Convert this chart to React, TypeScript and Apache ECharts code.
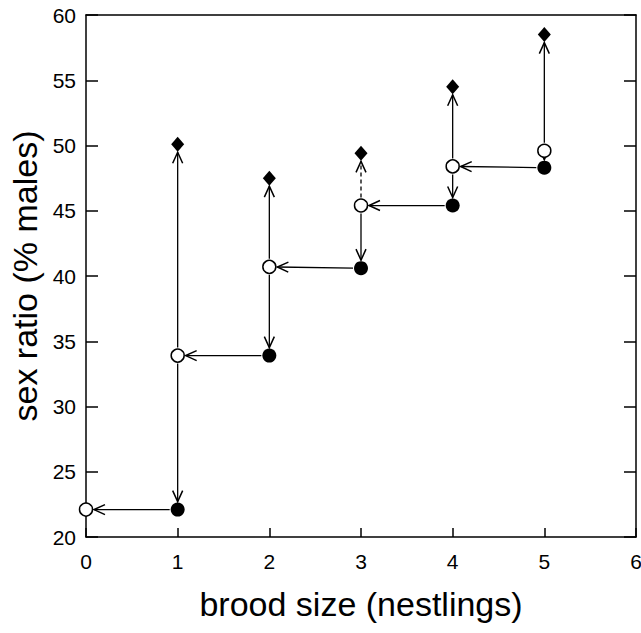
import React, { useEffect, useRef } from "react";
import * as echarts from "echarts";

const broodSize = [0, 1, 2, 3, 4, 5];
const filledValues: (number | null)[] = [null, 22.1, 33.9, 40.6, 45.4, 48.3];
const openValues = [22.1, 33.9, 40.7, 45.4, 48.4, 49.6];
const diamondValues: (number | null)[] = [null, 50.1, 47.5, 49.4, 54.5, 58.5];
const xTicks = [0, 1, 2, 3, 4, 5, 6];
const yTicks = [20, 25, 30, 35, 40, 45, 50, 55, 60];
const dashedUp = [3];

export default function App() {
  const ref = useRef<HTMLDivElement>(null);
  useEffect(() => {
    if (!ref.current) return;
    const chart = echarts.init(ref.current, undefined, { renderer: "svg" });

    const arrows: any[] = [];
    broodSize.forEach((x, i) => {
      const f = filledValues[i];
      if (f != null && i > 0) arrows.push([x, f, broodSize[i - 1], openValues[i - 1], 0]);
    });
    broodSize.forEach((x, i) => {
      const f = filledValues[i];
      if (f != null && openValues[i] > f + 1) arrows.push([x, openValues[i], x, f, 0]);
    });
    broodSize.forEach((x, i) => {
      const d = diamondValues[i];
      if (d != null) arrows.push([x, openValues[i], x, d, dashedUp.includes(x) ? 1 : 0]);
    });

    const font = "Liberation Sans, Arial, sans-serif";
    const ink = "#000";

    chart.setOption({
      animation: false,
      backgroundColor: "#fff",
      grid: { left: 86, right: 5, top: 15, bottom: 96, containLabel: false, outerBoundsMode: "none" },
      xAxis: [
        {
          type: "value",
          min: 0,
          max: 6,
          interval: 1,
          name: "brood size (nestlings)",
          nameLocation: "middle",
          nameGap: 50,
          nameTextStyle: { fontFamily: font, fontSize: 34, color: ink },
          axisLine: { show: true, onZero: false, lineStyle: { color: ink, width: 1.5 } },
          axisTick: { show: true, inside: true, length: 9, lineStyle: { color: ink, width: 1.5 } },
          axisLabel: {
            margin: 14,
            fontFamily: font,
            fontSize: 21,
            color: ink,
            formatter: (v: number) => (xTicks.includes(v) ? String(v) : ""),
          },
          splitLine: { show: false },
        },
        {
          type: "value",
          position: "top",
          min: 0,
          max: 6,
          interval: 1,
          axisLine: { show: true, onZero: false, lineStyle: { color: ink, width: 1.5 } },
          axisTick: { show: false },
          axisLabel: { show: false },
          splitLine: { show: false },
        },
      ],
      yAxis: [
        {
          type: "value",
          min: 20,
          max: 60,
          interval: 5,
          name: "sex ratio (% males)",
          nameLocation: "middle",
          nameGap: 44,
          nameRotate: 90,
          nameTextStyle: { fontFamily: font, fontSize: 34, color: ink },
          axisLine: { show: true, onZero: false, lineStyle: { color: ink, width: 1.5 } },
          axisTick: { show: true, inside: true, length: 12, lineStyle: { color: ink, width: 1.5 } },
          axisLabel: {
            margin: 10,
            fontFamily: font,
            fontSize: 21,
            color: ink,
            formatter: (v: number) => (yTicks.includes(v) ? String(v) : ""),
          },
          splitLine: { show: false },
        },
        {
          type: "value",
          position: "right",
          min: 20,
          max: 60,
          interval: 5,
          axisLine: { show: true, onZero: false, lineStyle: { color: ink, width: 1.5 } },
          axisTick: { show: true, inside: true, length: 12, lineStyle: { color: ink, width: 1.5 } },
          axisLabel: { show: false },
          splitLine: { show: false },
        },
      ],
      series: [
        {
          type: "custom",
          xAxisIndex: 0,
          yAxisIndex: 0,
          data: arrows,
          encode: { x: [0, 2], y: [1, 3] },
          z: 1,
          renderItem: (params: any, api: any) => {
            const p1 = api.coord([api.value(0), api.value(1)]);
            const p2 = api.coord([api.value(2), api.value(3)]);
            const dashed = api.value(4) === 1;
            const dx = p2[0] - p1[0];
            const dy = p2[1] - p1[1];
            const len = Math.sqrt(dx * dx + dy * dy) || 1;
            const ux = dx / len;
            const uy = dy / len;
            const s = 8;
            const e = 8;
            const a = [p1[0] + ux * s, p1[1] + uy * s];
            const b = [p2[0] - ux * e, p2[1] - uy * e];
            const ah = 11;
            const aw = 5;
            const px = -uy;
            const py = ux;
            const back = [b[0] - ux * ah, b[1] - uy * ah];
            return {
              type: "group",
              children: [
                {
                  type: "line",
                  shape: { x1: a[0], y1: a[1], x2: b[0], y2: b[1] },
                  style: { stroke: ink, lineWidth: 1.3, lineDash: dashed ? [4, 3] : null },
                },
                {
                  type: "polyline",
                  shape: {
                    points: [
                      [back[0] + px * aw, back[1] + py * aw],
                      b,
                      [back[0] - px * aw, back[1] - py * aw],
                    ],
                  },
                  style: { stroke: ink, lineWidth: 1.5, fill: "none" },
                },
              ],
            };
          },
        },
        {
          type: "scatter",
          name: "filled",
          symbol: "circle",
          symbolSize: 14,
          itemStyle: { color: ink, opacity: 1 },
          data: broodSize.map((x, i) => (filledValues[i] == null ? null : [x, filledValues[i]])).filter((d) => d),
          z: 3,
        },
        {
          type: "scatter",
          name: "open",
          symbol: "circle",
          symbolSize: 13,
          itemStyle: { color: "#fff", borderColor: ink, borderWidth: 1.5, opacity: 1 },
          data: broodSize.map((x, i) => [x, openValues[i]]),
          z: 3,
        },
        {
          type: "scatter",
          name: "diamond",
          symbol: "diamond",
          symbolSize: [13, 15],
          itemStyle: { color: ink, opacity: 1 },
          data: broodSize.map((x, i) => (diamondValues[i] == null ? null : [x, diamondValues[i]])).filter((d) => d),
          z: 3,
        },
      ],
    });
    return () => chart.dispose();
  }, []);

  return <div ref={ref} style={{ width: 641, height: 633, position: "absolute", left: 0, top: 0 }} />;
}
